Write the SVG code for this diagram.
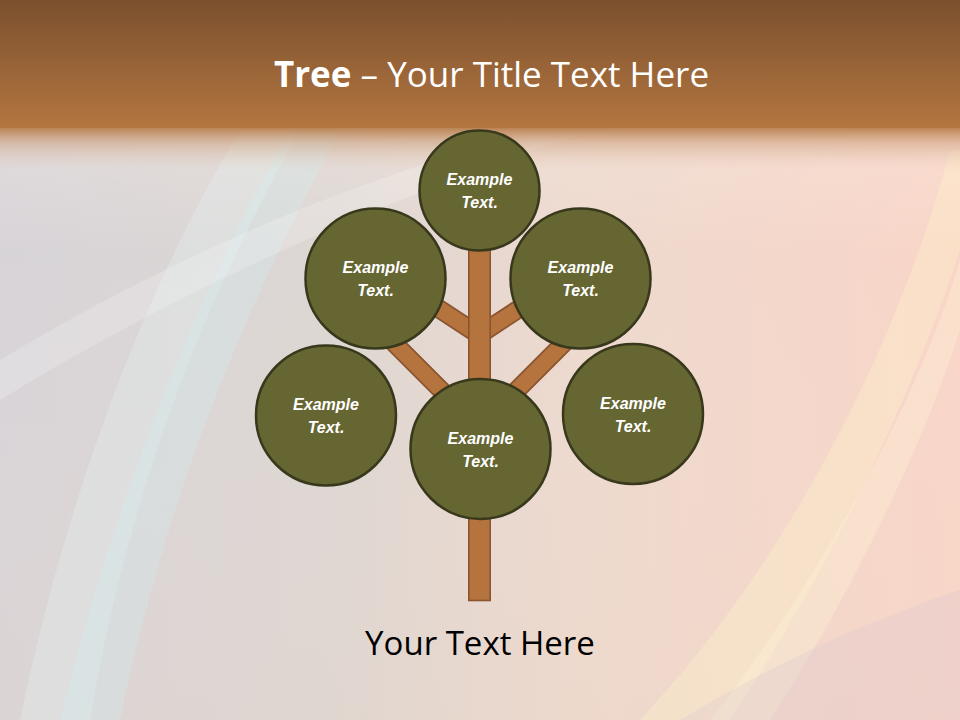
<svg xmlns="http://www.w3.org/2000/svg" width="960" height="720" viewBox="0 0 960 720">
  <defs>
    <linearGradient id="bgH" x1="0" y1="0" x2="1" y2="0">
      <stop offset="0" stop-color="#D3D0D6"/>
      <stop offset="0.35" stop-color="#D9D3D0"/>
      <stop offset="0.6" stop-color="#EBD6CB"/>
      <stop offset="1" stop-color="#F8D2C4"/>
    </linearGradient>
    <linearGradient id="bgV" x1="0" y1="0" x2="0" y2="1">
      <stop offset="0" stop-color="#FFF4EA" stop-opacity="0.55"/>
      <stop offset="0.35" stop-color="#FFF4EA" stop-opacity="0.1"/>
      <stop offset="1" stop-color="#F4E0CF" stop-opacity="0.25"/>
    </linearGradient>
    <linearGradient id="head" x1="0" y1="0" x2="0" y2="1">
      <stop offset="0" stop-color="#7B502E"/>
      <stop offset="1" stop-color="#B37640"/>
    </linearGradient>
    <linearGradient id="headFade" x1="0" y1="0" x2="0" y2="1">
      <stop offset="0" stop-color="#B37640" stop-opacity="0.9"/>
      <stop offset="0.35" stop-color="#C99872" stop-opacity="0.5"/>
      <stop offset="1" stop-color="#E8D2C2" stop-opacity="0"/>
    </linearGradient>
    <style>
      .node circle { fill: #666633; stroke: #38381C; stroke-width: 2.5; }
      .node text { font-family: "Liberation Sans", Arial, sans-serif; font-weight: bold; font-style: italic; font-size: 16px; fill: #FFFFFF; text-anchor: middle; }
      .branchOut { stroke: #8A5530; stroke-width: 19; fill: none; }
      .branchIn { stroke: #B5733D; stroke-width: 15.5; fill: none; }
      .trunk { fill: #B5733D; stroke: #8A5530; stroke-width: 1.6; }
    </style>
  </defs>

  <!-- background -->
  <rect x="0" y="0" width="960" height="720" fill="url(#bgH)"/>
  <rect x="0" y="0" width="960" height="720" fill="url(#bgV)"/>
  <!-- soft swooshes left -->
  <path d="M20,720 C70,480 150,280 240,130 L300,130 C210,290 130,480 90,720 Z" fill="#E6F4F6" opacity="0.3"/>
  <path d="M60,720 C120,480 200,290 290,130 L340,130 C250,300 170,480 120,720 Z" fill="#CFEFF3" opacity="0.3"/>
  <path d="M0,360 C150,270 320,190 520,135 L580,135 C380,200 180,290 0,400 Z" fill="#FFFFFF" opacity="0.2"/>
  <!-- soft swooshes right -->
  <path d="M640,720 C790,560 900,340 950,150 L960,150 L960,250 C905,420 810,600 730,720 Z" fill="#FFF4C8" opacity="0.35"/>
  <path d="M710,720 C835,560 925,380 960,260 L960,330 C915,470 835,620 770,720 Z" fill="#FFF8D8" opacity="0.3"/>
  <path d="M680,720 C780,660 870,620 960,590 L960,720 Z" fill="#DCC6CF" opacity="0.3"/>

  <!-- header -->
  <rect x="0" y="0" width="960" height="128" fill="url(#head)"/>
  <rect x="0" y="127" width="960" height="45" fill="url(#headFade)"/>
  <text x="491.5" y="87" font-family="'Open Sans', 'Noto Sans', sans-serif" font-size="35" fill="#FFFFFF" text-anchor="middle"><tspan font-weight="bold">Tree</tspan> – Your Title Text Here</text>

  <!-- connectors: branches and trunk -->
  <g id="connectors">
    <line class="branchOut" x1="479" y1="335" x2="418" y2="295"/>
    <line class="branchOut" x1="479" y1="335" x2="540" y2="295"/>
    <line class="branchOut" x1="479" y1="428" x2="385" y2="334"/>
    <line class="branchOut" x1="479" y1="428" x2="573" y2="334"/>
    <line class="branchIn" x1="479" y1="335" x2="418" y2="295"/>
    <line class="branchIn" x1="479" y1="335" x2="540" y2="295"/>
    <line class="branchIn" x1="479" y1="428" x2="385" y2="334"/>
    <line class="branchIn" x1="479" y1="428" x2="573" y2="334"/>
    <rect class="trunk" x="468.8" y="240" width="21.4" height="360.5"/>
  </g>

  <!-- nodes -->
  <g id="node-top" class="node">
    <circle cx="479.5" cy="190.5" r="60"/>
    <text x="479.5" y="185">Example</text>
    <text x="479.5" y="208">Text.</text>
  </g>
  <g id="node-upper-left" class="node">
    <circle cx="375.5" cy="278.5" r="70"/>
    <text x="375.5" y="273">Example</text>
    <text x="375.5" y="296">Text.</text>
  </g>
  <g id="node-upper-right" class="node">
    <circle cx="580.5" cy="278.5" r="70"/>
    <text x="580.5" y="273">Example</text>
    <text x="580.5" y="296">Text.</text>
  </g>
  <g id="node-left" class="node">
    <circle cx="326" cy="415.5" r="70"/>
    <text x="326" y="410">Example</text>
    <text x="326" y="433">Text.</text>
  </g>
  <g id="node-center" class="node">
    <circle cx="480.5" cy="449" r="70"/>
    <text x="480.5" y="443.5">Example</text>
    <text x="480.5" y="466.5">Text.</text>
  </g>
  <g id="node-right" class="node">
    <circle cx="633" cy="414" r="70"/>
    <text x="633" y="408.5">Example</text>
    <text x="633" y="431.5">Text.</text>
  </g>

  <text x="480" y="655" font-family="'Open Sans', 'Noto Sans', sans-serif" font-size="33" fill="#000000" text-anchor="middle">Your Text Here</text>
</svg>
